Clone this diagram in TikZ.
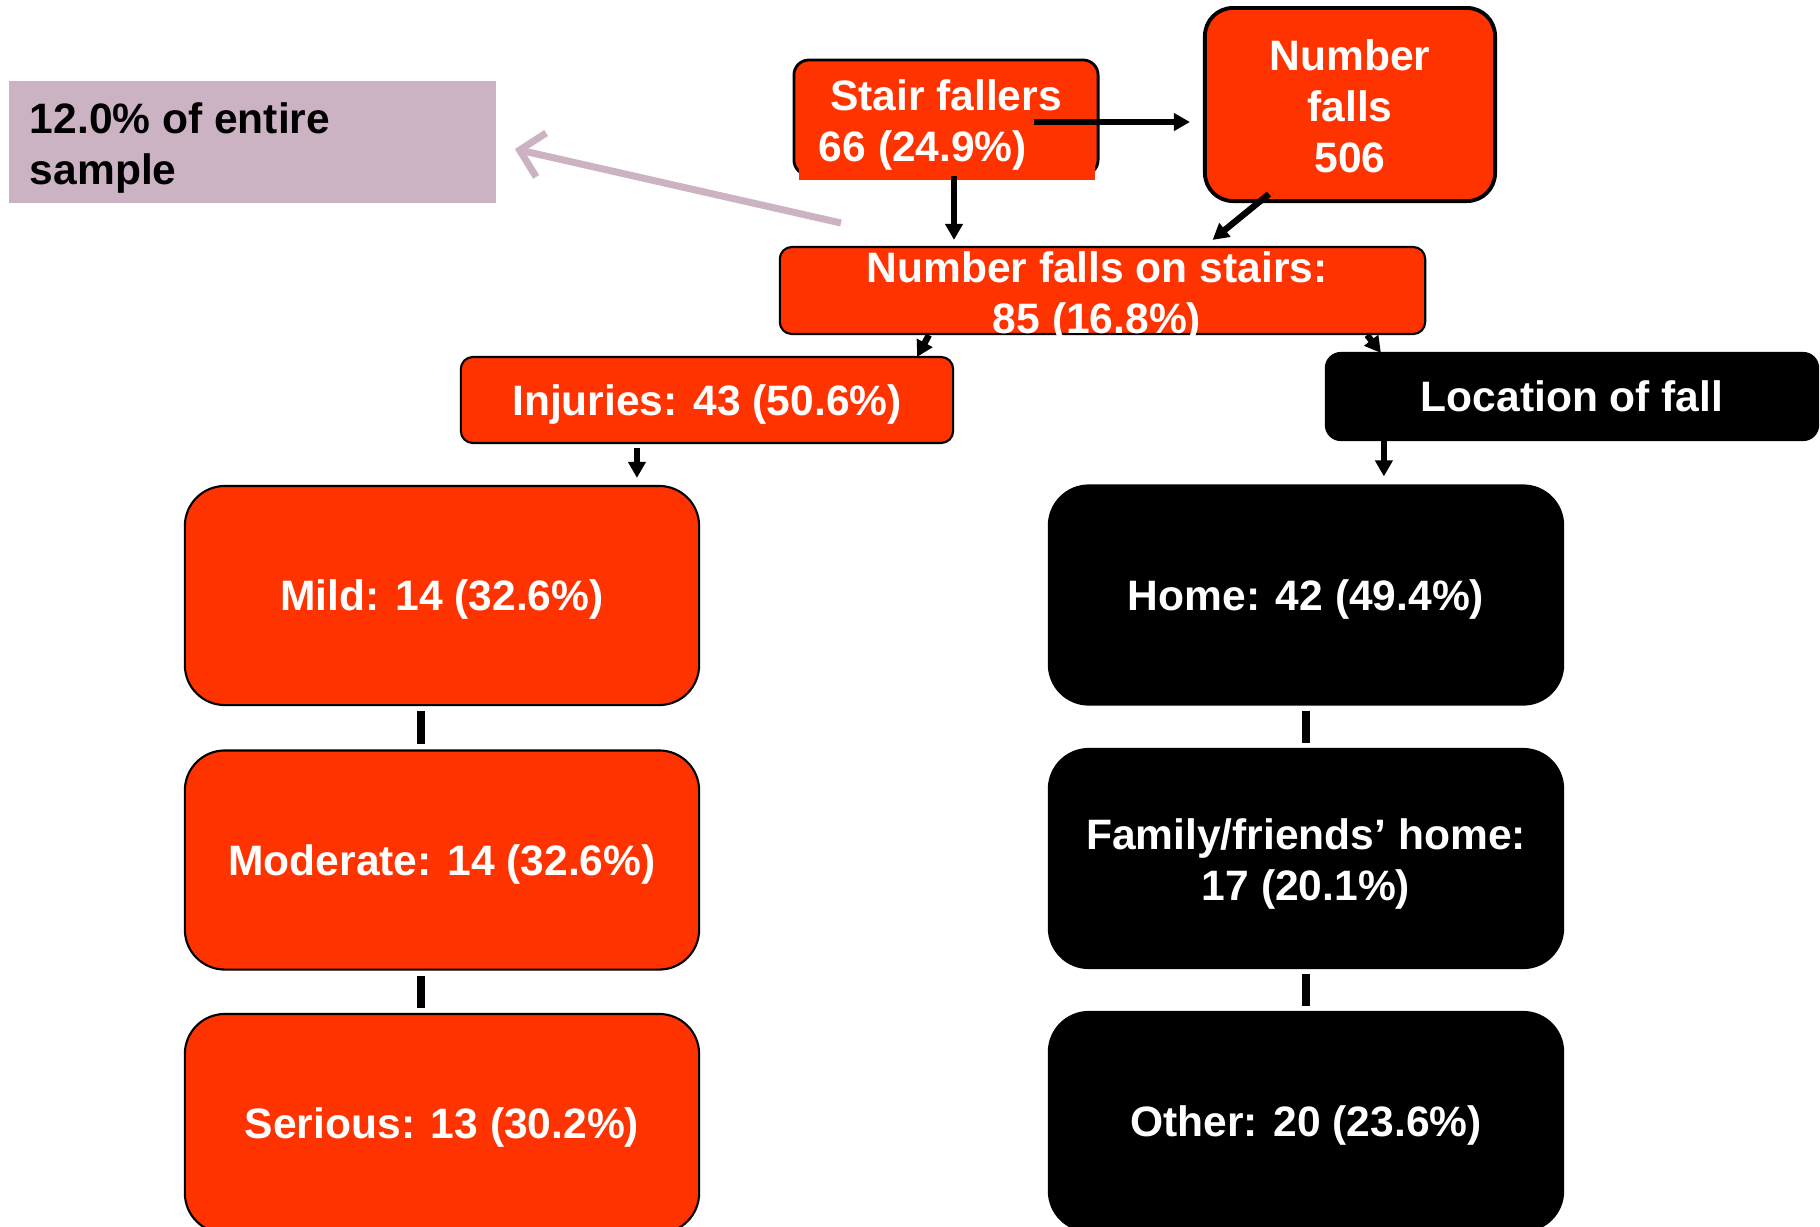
\documentclass[tikz,border=0pt]{standalone}
\usepackage{fontspec}
\setmainfont{Liberation Sans}
\usetikzlibrary{arrows.meta}
\usetikzlibrary{calc}
\definecolor{fallred}{RGB}{255,51,0}
\definecolor{notepurple}{RGB}{203,179,196}

\tikzset{
  txt/.style={text=white, font=\bfseries\fontsize{12.1}{14.5}\selectfont, align=center, inner sep=0pt},
  oneline/.style={text depth=0pt},
  fallbox/.style={txt, rounded corners=0.12cm, fill=fallred, draw=black, line width=0.6pt},
  bigbox/.style={fallbox, rounded corners=0.4cm, minimum width=5.14cm, minimum height=2.19cm},
  darkbox/.style={bigbox, fill=black},
  arr/.style={line width=1.8pt, -{Triangle[length=0.16cm,width=0.17cm]}},
  bar/.style={line width=2pt, shorten <=0.05cm, shorten >=0.05cm},
}

\begin{document}
\begin{tikzpicture}[x=0.01cm, y=-0.01cm]
\useasboundingbox (0,0) rectangle (1820,1226);

% note on the left
\node[fill=notepurple, minimum width=4.87cm, minimum height=1.22cm, inner sep=0pt] (note) at (252.5,142) {};
\node[txt, text=black, align=left, anchor=west] (notetxt) at ([xshift=0.21cm,yshift=-0.055cm]note.west) {12.0\% of entire\\sample};
\coordinate (notetail) at (841,223);
\draw[notepurple, line width=2pt, -{Straight Barb[length=0.22cm,width=0.45cm]}]
  (notetail) -- ([xshift=0.18cm,yshift=-0.07cm]note.east);

% top row
\node[fallbox, rounded corners=0.15cm, line width=0.8pt, minimum width=3.04cm,
  minimum height=1.15cm] (stair) at (946,117.5) {};
\fill[fallred] (799,151) rectangle (1095,180);
\node[txt] (stairtxt) at (946,124.5) {Stair fallers\\\hspace*{-0.46cm}66 (24.9\%)};
\node[fallbox, rounded corners=0.28cm, line width=1.1pt, minimum width=2.9cm,
  minimum height=1.93cm] (falls) at (1350,104.5) {};
\node[txt] (fallstxt) at (1350,106) {Number\\falls\\506};

\node[fallbox, minimum width=6.45cm, minimum height=0.87cm] (nfos) at (1102.5,290.5) {};
\node[txt] (nfostxt) at (1097,297) {Number falls on stairs:\\85 (16.8\%)};

\draw[arr, shorten >=0.13cm] ([xshift=-0.65cm,yshift=-0.045cm]stair.east)
  -- ([yshift=-0.045cm]stair.east -| falls.west);
\draw[arr, shorten >=0.06cm] ([xshift=0.08cm]stair.south) -- ([xshift=0.08cm]stair.south |- nfos.north);
\draw[arr] ([xshift=-0.81cm,yshift=0.09cm]falls.south) -- ([xshift=1.1cm,yshift=0.06cm]nfos.north);

% second row
\node[fallbox, oneline, minimum width=4.92cm, minimum height=0.86cm] (injuries) at (707,400) {Injuries: 43 (50.6\%)};
\node[fallbox, oneline, fill=black, rounded corners=0.15cm, minimum width=4.92cm,
  minimum height=0.87cm] (location) at (1572,396.5) {Location of fall};

\draw[arr] ([xshift=-1.735cm]nfos.south) -- ([xshift=2.1cm,yshift=-0.01cm]injuries.north);
\draw[arr] ([xshift=2.645cm]nfos.south) -- ([xshift=-1.91cm,yshift=-0.01cm]location.north);

% injury severity
\node[bigbox, oneline] (mild) at (442,595.5) {Mild: 14 (32.6\%)};
\node[bigbox, oneline] (moderate) at (442,860) {Moderate: 14 (32.6\%)};
\node[bigbox, oneline] (serious) at (442,1123.5) {Serious: 13 (30.2\%)};

% location
\node[darkbox, oneline] (home) at (1306,595) {Home: 42 (49.4\%)};
\node[darkbox] (family) at (1306,858.5) {};
\node[txt] (familytxt) at (1306,864) {Family/friends’ home:\\17 (20.1\%)};
\node[darkbox, oneline] (other) at (1306,1121.5) {Other: 20 (23.6\%)};

\draw[arr, shorten <=0.04cm, shorten >=0.07cm] ([xshift=-0.7cm]injuries.south) -- ([xshift=-0.7cm]injuries.south |- mild.north);
\draw[arr, shorten >=0.08cm] ([xshift=-1.88cm]location.south) -- ([xshift=-1.88cm]location.south |- home.north);

\draw[bar] ([xshift=-0.21cm]mild.south) -- ([xshift=-0.21cm]mild.south |- moderate.north);
\draw[bar] ([xshift=-0.21cm]moderate.south) -- ([xshift=-0.21cm]moderate.south |- serious.north);
\draw[bar] (home.south) -- (family.north);
\draw[bar] (family.south) -- (other.north);
\end{tikzpicture}
\end{document}
